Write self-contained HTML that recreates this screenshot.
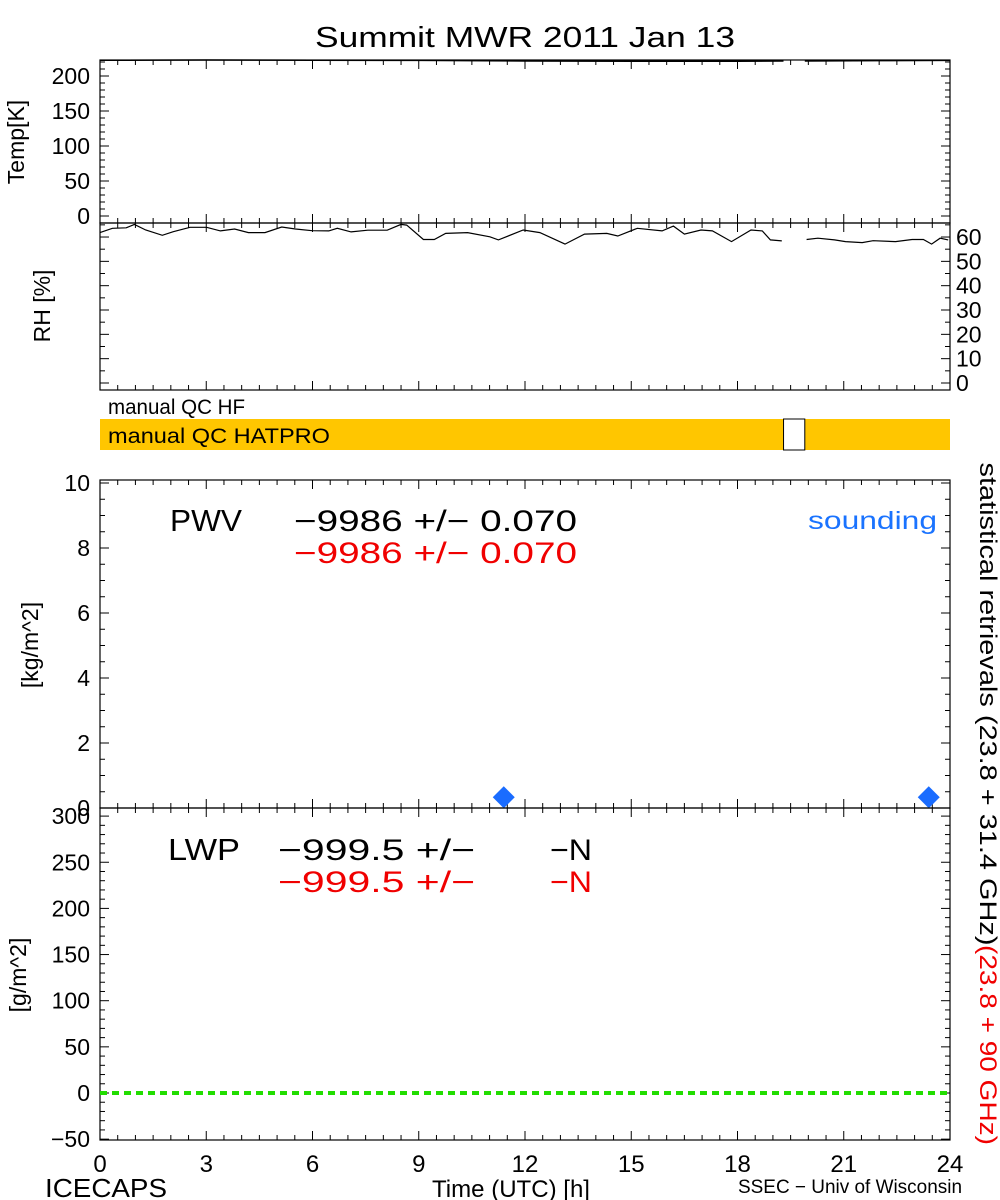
<!DOCTYPE html>
<html><head><meta charset="utf-8">
<style>
html,body{margin:0;padding:0;background:#fff;}
svg{display:block;font-family:"Liberation Sans",sans-serif;}
</style></head>
<body>
<svg id="chart" width="1000" height="1200" viewBox="0 0 1000 1200">
<text x="315" y="47" font-size="29" textLength="420" lengthAdjust="spacingAndGlyphs">Summit MWR 2011 Jan 13</text>
<g id="g"></g>
</svg>
<script>
// ---- data ----
const rhTimes = [0,0.35,0.74,0.97,1.29,1.76,2.07,2.54,3.01,3.40,3.80,4.19,4.66,5.13,5.52,5.99,6.46,6.70,7.09,7.56,8.11,8.50,8.66,9.13,9.44,9.76,10.38,11.01,11.25,11.95,12.42,13.13,13.68,14.31,14.62,15.17,15.87,16.19,16.50,16.97,17.29,17.83,18.38,18.70,18.93,19.25,null,19.95,20.27,20.74,21.05,21.52,21.83,22.46,22.93,23.25,23.48,23.72,23.95];
const rhValues = [61.8,63.6,63.8,65.2,62.9,60.7,62.2,64.0,64.0,62.5,63.3,61.8,61.8,64.1,63.3,62.6,62.5,63.6,62.1,62.8,62.8,65.2,64.9,59.0,59.0,61.5,61.8,60.1,58.8,62.9,61.8,57.1,61.2,61.5,60.4,63.6,62.5,64.5,61.2,62.9,62.5,58.1,62.9,62.5,58.8,58.4,null,59.0,59.5,58.8,58.1,57.7,58.5,58.1,59.0,59.0,57.1,59.5,58.8];
const tempTimes = [0,3,6,9,12,15,18,19.3,null,19.9,22,24];
const tempValues = [222.5,222.8,222.5,222.3,221.5,221,221.2,221.5,null,221.5,222,222.3];
const soundTimes = [11.4,23.4];
const soundPWV = [0.33,0.33];
const qcGapStart = [19.3];
const qcGapEnd = [19.9];
const xTicks = [0,3,6,9,12,15,18,21,24];
const tempTicks = [0,50,100,150,200];
const rhTicks = [0,10,20,30,40,50,60];
const pwvTicks = [0,2,4,6,8,10];
const lwpTicks = [-50,0,50,100,150,200,250,300];

const NS="http://www.w3.org/2000/svg";
const g=document.getElementById('g');
function el(tag,attrs,parent){const e=document.createElementNS(NS,tag);for(const k in attrs)e.setAttribute(k,attrs[k]);(parent||g).appendChild(e);return e;}
const X0=100,X1=950;
const xs=t=>X0+(t/24)*(X1-X0);
const yTemp=v=>216-v*0.7;
const yRH=v=>383-v*2.433;
const yPWV=v=>808-v*32.5;
const yLWP=v=>1093-v*0.923;

function frame(top,bot,name){
  const r=el('rect',{x:X0,y:top,width:X1-X0,height:bot-top,fill:'none',stroke:'#000','stroke-width':1.2});
  
  
  for(let t=0;t<=24;t+=0.5){
    const major=(t%3===0);const L=major?9:5;
    el('line',{x1:xs(t),x2:xs(t),y1:bot,y2:bot-L,stroke:'#000'});
    el('line',{x1:xs(t),x2:xs(t),y1:top,y2:top+L,stroke:'#000'});
  }
}
function yticks(ticks,f,side,minorStep,lo,hi){
  for(let v=lo;v<=hi+1e-9;v+=minorStep){
    const y=f(v);const major=ticks.some(k=>Math.abs(k-v)<1e-9);const L=major?9:5;
    el('line',{x1:X0,x2:X0+L,y1:y,y2:y,stroke:'#000'});
    el('line',{x1:X1,x2:X1-L,y1:y,y2:y,stroke:'#000'});
  }
  ticks.forEach(v=>{
    const t=el('text',{x:side==='left'?90:956,y:f(v)+8,'font-size':23,'text-anchor':side==='left'?'end':'start'});
    t.textContent=String(v).replace('-','\u2212');
    
    
  });
}
function line(times,vals,fy,attrs,name){
  let d='',pen=false;
  for(let i=0;i<times.length;i++){
    if(times[i]===null||vals[i]===null){pen=false;continue;}
    d+=(pen?'L':'M')+xs(times[i]).toFixed(1)+','+fy(vals[i]).toFixed(1);pen=true;
  }
  const p=el('path',Object.assign({d:d,fill:'none'},attrs));
  
  
}
function rotText(x,y,txt,size,color,ang,name,len){
  const a={x:0,y:0,'font-size':size,fill:color,'text-anchor':'middle',transform:`translate(${x},${y}) rotate(${ang})`};
  if(len){a.textLength=len;a.lengthAdjust='spacingAndGlyphs';}
  const t=el('text',a);
  t.textContent=txt;
  
  
  return t;
}
function txt(x,y,s,size,color,name,anchor,len){
  const a={x:x,y:y,'font-size':size,fill:color,'text-anchor':anchor||'start'};
  if(len){a.textLength=len;a.lengthAdjust='spacingAndGlyphs';}
  const t=el('text',a);
  t.textContent=s;
  
  
  return t;
}

// Temp panel
frame(60,223,'temp-panel');
yticks(tempTicks,yTemp,'left',10,0,220);
line(tempTimes,tempValues,yTemp,{stroke:'#000','stroke-width':1.5},'temp-line');
rotText(24,142,'Temp[K]',23,'#000',-90,'temp-axis-title');
// RH panel
frame(223,390,'rh-panel');
yticks(rhTicks,yRH,'right',5,0,65);
line(rhTimes,rhValues,yRH,{stroke:'#000','stroke-width':1.2},'rh-line');
rotText(50,306,'RH [%]',23,'#000',-90,'rh-axis-title');

// QC bars
txt(108,414,'manual QC HF',21,'#000','qc-hf-label','start',137);
const qb=el('rect',{x:X0,y:419,width:X1-X0,height:31,fill:'#ffc600'});


qcGapStart.forEach((s,i)=>{
  const r=el('rect',{x:xs(s),y:419,width:xs(qcGapEnd[i])-xs(s),height:31,fill:'#fff',stroke:'#000','stroke-width':1});
  
  
});
txt(108,443,'manual QC HATPRO',21,'#000','qc-hatpro-label','start',222);

// PWV panel
frame(480,808,'pwv-panel');
yticks(pwvTicks,yPWV,'left',0.5,0,10);
rotText(38,645,'[kg/m^2]',23,'#000',-90,'pwv-axis-title');
txt(170,531,'PWV',31,'#000','pwv-label','start',72);
txt(294,531,'\u22129986 +/\u2212 0.070',30,'#000','pwv-value-black','start',283);
txt(294,563,'\u22129986 +/\u2212 0.070',30,'#f00000','pwv-value-red','start',283);
txt(937,529,'sounding',25,'#1a73ff','sounding-legend','end',129);
soundTimes.forEach((t,i)=>{
  const x=xs(t),y=yPWV(soundPWV[i]);
  const p=el('polygon',{points:`${x},${y-11} ${x+11},${y} ${x},${y+11} ${x-11},${y}`,fill:'#1a6cff'});
  
  
});

// LWP panel
frame(808,1140,'lwp-panel');
yticks(lwpTicks,yLWP,'left',10,-50,300);
rotText(26,975,'[g/m^2]',23,'#000',-90,'lwp-axis-title');
txt(168,860,'LWP',31,'#000','lwp-label','start',72);
txt(278,860,'\u2212999.5 +/\u2212',30,'#000','lwp-value-black','start',197);
txt(550,860,'\u2212N',30,'#000','lwp-n-black','start',42);
txt(278,892,'\u2212999.5 +/\u2212',30,'#f00000','lwp-value-red','start',197);
txt(550,892,'\u2212N',30,'#f00000','lwp-n-red','start',42);
line([0,24],[0,0],yLWP,{stroke:'#22dd00','stroke-width':4,'stroke-dasharray':'7,5'},'lwp-zero-line');

// x tick labels
xTicks.forEach(t=>{
  txt(xs(t),1172,String(t),24,'#000','x-tick-label','middle');
});
txt(45,1197,'ICECAPS',26,'#000','icecaps-label','start',122);
txt(432,1197,'Time (UTC) [h]',24,'#000','x-axis-title','start',158);
txt(738,1193,'SSEC \u2212 Univ of Wisconsin',19,'#000','ssec-credit','start',224);

// right side labels
rotText(980,704,'statistical retrievals (23.8 + 31.4 GHz)',24,'#000',90,'retrieval-label-black',483);
rotText(980,1045,'(23.8 + 90 GHz)',24,'#f00000',90,'retrieval-label-red',200);
</script>
</body></html>
